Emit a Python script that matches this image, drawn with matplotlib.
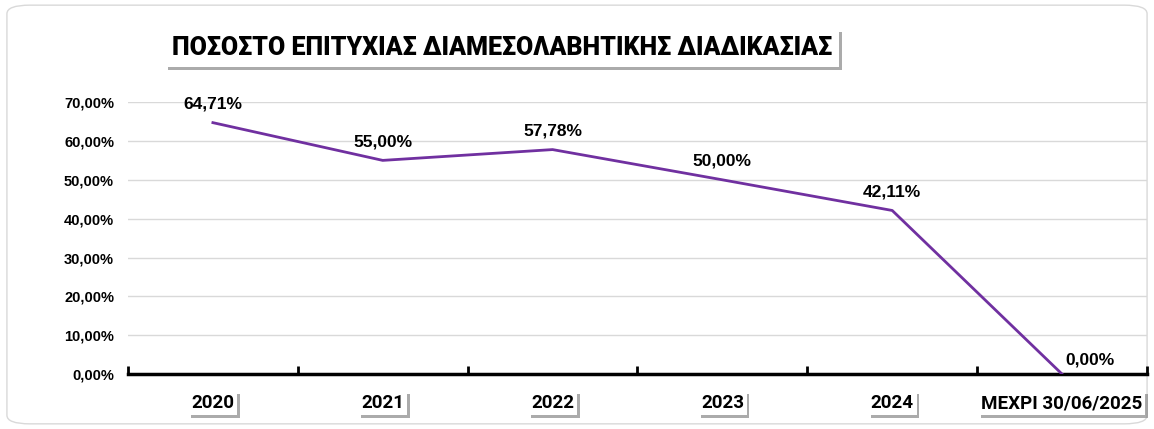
import numpy as np
import matplotlib.pyplot as plt
from matplotlib.patches import FancyBboxPatch
from matplotlib.ticker import MultipleLocator, FuncFormatter
import matplotlib.patheffects as pe

categories = ['2020', '2021', '2022', '2023', '2024', 'ΜΕΧΡΙ 30/06/2025']
values = [64.71, 55.00, 57.78, 50.00, 42.11, 0.00]
title = 'ΠΟΣΟΣΤΟ ΕΠΙΤΥΧΙΑΣ ΔΙΑΜΕΣΟΛΑΒΗΤΙΚΗΣ ΔΙΑΔΙΚΑΣΙΑΣ'

plt.rcParams['font.family'] = ['Liberation Sans', 'DejaVu Sans']

fig = plt.figure(figsize=(11.54, 4.29), dpi=100)
frame = FancyBboxPatch((0.006, 0.012), 0.988, 0.976,
                       boxstyle='round,pad=0,rounding_size=0.02',
                       transform=fig.transFigure, fc='white',
                       ec='#d9d9d9', lw=1, zorder=-10)
fig.patches.append(frame)
ax = fig.add_axes([0.1109, 0.128, 0.8830, 0.634])
ax.patch.set_alpha(0)

x = np.arange(len(categories)) + 0.5
ax.plot(x, values, color='#7030A0', lw=2, zorder=3)

ax.set_xlim(0, len(categories))
ax.set_ylim(0, 70)
ax.yaxis.set_major_locator(MultipleLocator(10))
ax.yaxis.set_major_formatter(FuncFormatter(lambda v, p: f'{v:.2f}%'.replace('.', ',')))
ax.grid(axis='y', color='#d9d9d9', lw=1)
ax.set_axisbelow(True)
for s in ['top', 'right', 'left']:
    ax.spines[s].set_visible(False)
ax.spines['bottom'].set_linewidth(2.5)
ax.tick_params(axis='y', length=0, pad=10, labelsize=10.5)
for lab in ax.get_yticklabels():
    lab.set_fontweight('bold')

ax.set_xticks(np.arange(len(categories) + 1))
ax.set_xticklabels([])
ax.tick_params(axis='x', direction='in', length=6, width=2)

shadow = [pe.withSimplePatchShadow(offset=(2, -2), shadow_rgbFace='#888888', alpha=0.7)]
for xi, c in zip(x, categories):
    ax.text(xi, -7.5, c, ha='center', va='center', fontsize=13.5, fontweight='bold',
            family=['Roboto', 'DejaVu Sans'],
            bbox=dict(fc='white', ec='none', pad=2, path_effects=shadow))

for xi, v in zip(x, values):
    lbl = f'{v:.2f}%'.replace('.', ',')
    dx = 20 if v == 0 else 0
    dy = 10 if v == 0 else 13.5
    ax.annotate(lbl, (xi, v), xytext=(dx, dy), textcoords='offset points',
                ha='center', va='center', fontsize=12.5, fontweight='bold')

fig.text(0.435, 0.888, title, ha='center', va='center', fontsize=18, fontweight='heavy',
         family=['Roboto', 'DejaVu Sans'],
         bbox=dict(fc='white', ec='none', pad=5, path_effects=shadow))

fig.savefig('out.png', dpi=100)
